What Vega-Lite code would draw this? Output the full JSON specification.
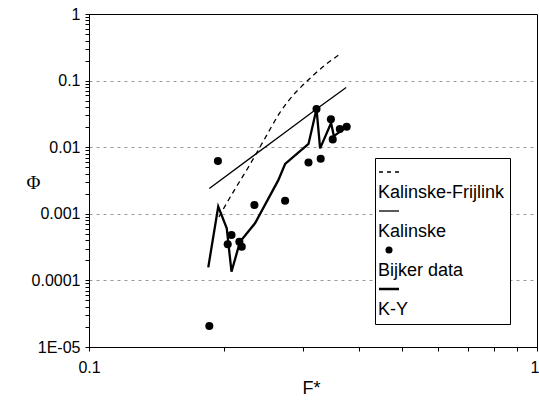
{
  "$schema": "https://vega.github.io/schema/vega-lite/v6.json",
  "width": 448,
  "height": 333,
  "autosize": "none",
  "padding": {"left": 89, "top": 14, "right": 2, "bottom": 59},
  "background": "white",
  "config": {
    "view": {"stroke": "black", "strokeWidth": 1},
    "font": "Liberation Sans",
    "axis": {
      "domainColor": "black",
      "tickColor": "black",
      "labelColor": "black",
      "titleColor": "black",
      "labelFont": "Liberation Sans",
      "labelFontSize": 16,
      "tickSize": 4,
      "labelFlush": false,
      "labelOverlap": false
    }
  },
  "data": {
    "values": [
      {"series": "Kalinske-Frijlink", "F": 0.195, "Phi": 0.0009},
      {"series": "Kalinske-Frijlink", "F": 0.2047, "Phi": 0.0016},
      {"series": "Kalinske-Frijlink", "F": 0.2287, "Phi": 0.0055},
      {"series": "Kalinske-Frijlink", "F": 0.245, "Phi": 0.0123},
      {"series": "Kalinske-Frijlink", "F": 0.2667, "Phi": 0.033},
      {"series": "Kalinske-Frijlink", "F": 0.3166, "Phi": 0.12},
      {"series": "Kalinske-Frijlink", "F": 0.366, "Phi": 0.26},
      {"series": "Kalinske", "F": 0.1856, "Phi": 0.0024},
      {"series": "Kalinske", "F": 0.28, "Phi": 0.0186},
      {"series": "Kalinske", "F": 0.322, "Phi": 0.0375},
      {"series": "Kalinske", "F": 0.375, "Phi": 0.079},
      {"series": "Bijker data", "F": 0.1856, "Phi": 0.0000207},
      {"series": "Bijker data", "F": 0.194, "Phi": 0.0062},
      {"series": "Bijker data", "F": 0.204, "Phi": 0.00035},
      {"series": "Bijker data", "F": 0.208, "Phi": 0.00048},
      {"series": "Bijker data", "F": 0.2166, "Phi": 0.00038},
      {"series": "Bijker data", "F": 0.2193, "Phi": 0.00032},
      {"series": "Bijker data", "F": 0.234, "Phi": 0.00136},
      {"series": "Bijker data", "F": 0.274, "Phi": 0.00157},
      {"series": "Bijker data", "F": 0.309, "Phi": 0.0059},
      {"series": "Bijker data", "F": 0.322, "Phi": 0.0375},
      {"series": "Bijker data", "F": 0.329, "Phi": 0.0067},
      {"series": "Bijker data", "F": 0.3467, "Phi": 0.0262},
      {"series": "Bijker data", "F": 0.35, "Phi": 0.0131},
      {"series": "Bijker data", "F": 0.363, "Phi": 0.0188},
      {"series": "Bijker data", "F": 0.376, "Phi": 0.0203},
      {"series": "K-Y", "F": 0.1846, "Phi": 0.000157},
      {"series": "K-Y", "F": 0.1943, "Phi": 0.00128},
      {"series": "K-Y", "F": 0.203, "Phi": 0.000606},
      {"series": "K-Y", "F": 0.208, "Phi": 0.000135},
      {"series": "K-Y", "F": 0.2173, "Phi": 0.00038},
      {"series": "K-Y", "F": 0.2347, "Phi": 0.00072},
      {"series": "K-Y", "F": 0.2646, "Phi": 0.0032},
      {"series": "K-Y", "F": 0.274, "Phi": 0.0056},
      {"series": "K-Y", "F": 0.309, "Phi": 0.0112},
      {"series": "K-Y", "F": 0.322, "Phi": 0.0375},
      {"series": "K-Y", "F": 0.328, "Phi": 0.0096},
      {"series": "K-Y", "F": 0.347, "Phi": 0.0231},
      {"series": "K-Y", "F": 0.352, "Phi": 0.0147},
      {"series": "K-Y", "F": 0.376, "Phi": 0.0203}
    ]
  },
  "encoding": {
    "x": {
      "field": "F", "type": "quantitative",
      "scale": {"type": "log", "domain": [0.1, 1], "nice": false},
      "axis": {
        "title": "F*",
        "titleFont": "Liberation Sans",
        "titleFontSize": 18,
        "titleFontWeight": "normal",
        "titleX": 222,
        "titleY": 41,
        "titleBaseline": "middle",
        "titleAlign": "center",
        "labelPadding": 8,
        "labelAlign": {"condition": {"test": "datum.value == 1", "value": "right"}, "value": "center"},
        "labelOffset": {"condition": {"test": "datum.value == 1", "value": 2}, "value": 0},
        "grid": false,
        "values": [0.1, 0.2, 0.3, 0.4, 0.5, 0.6, 0.7, 0.8, 0.9, 1],
        "labelExpr": "datum.value == 0.1 ? '0.1' : datum.value == 1 ? '1' : ''"
      }
    },
    "y": {
      "field": "Phi", "type": "quantitative",
      "scale": {"type": "log", "domain": [0.00001, 1], "nice": false},
      "axis": {
        "title": "Φ",
        "titleFont": "Liberation Serif",
        "titleFontSize": 19,
        "titleFontWeight": "normal",
        "titleAngle": 0,
        "titleX": -56,
        "titleY": 168,
        "titleBaseline": "middle",
        "titleAlign": "center",
        "labelPadding": 5,
        "grid": true,
        "gridColor": "#999999",
        "gridDash": [3, 4],
        "gridOpacity": {"condition": {"test": "datum.value == 0.1 || datum.value == 0.01 || datum.value == 0.001 || datum.value == 0.0001", "value": 1}, "value": 0},
        "values": [0.00001, 0.00002, 0.00003, 0.00004, 0.00005, 0.00006, 0.00007, 0.00008, 0.00009,
                   0.0001, 0.0002, 0.0003, 0.0004, 0.0005, 0.0006, 0.0007, 0.0008, 0.0009,
                   0.001, 0.002, 0.003, 0.004, 0.005, 0.006, 0.007, 0.008, 0.009,
                   0.01, 0.02, 0.03, 0.04, 0.05, 0.06, 0.07, 0.08, 0.09,
                   0.1, 0.2, 0.3, 0.4, 0.5, 0.6, 0.7, 0.8, 0.9, 1],
        "labelExpr": "datum.value == 1 ? '1' : datum.value == 0.1 ? '0.1' : datum.value == 0.01 ? '0.01' : datum.value == 0.001 ? '0.001' : datum.value == 0.0001 ? '0.0001' : datum.value == 0.00001 ? '1E-05' : ''"
      }
    },
    "color": {
      "field": "series", "type": "nominal",
      "scale": {"domain": ["Kalinske-Frijlink", "Kalinske", "Bijker data", "K-Y"], "range": ["black", "black", "black", "black"]},
      "legend": {
        "title": null,
        "orient": "none",
        "legendX": 286,
        "legendY": 144,
        "padding": 5,
        "fillColor": "white",
        "strokeColor": "black",
        "labelFont": "Liberation Sans",
        "labelFontSize": 18,
        "labelColor": "black",
        "labelOffset": -20,
        "rowPadding": 0,
        "symbolSize": 400,
        "encode": {
          "symbols": {
            "update": {
              "shape": {"signal": "datum.value === 'Kalinske-Frijlink' ? 'M-1,0H-0.6M-0.2,0H0.2M0.6,0H1' : datum.value === 'Bijker data' ? 'circle' : 'M-1,0H1'"},
              "size": {"signal": "datum.value === 'Bijker data' ? 50 : 400"},
              "fill": {"signal": "datum.value === 'Bijker data' ? 'black' : 'transparent'"},
              "stroke": {"value": "black"},
              "strokeWidth": {"signal": "datum.value === 'K-Y' ? 2.5 : datum.value === 'Bijker data' ? 0 : 1.3"},
              "opacity": {"value": 1}
            }
          },
          "labels": {
            "update": {
              "dy": {"value": 21}
            }
          }
        }
      }
    }
  },
  "layer": [
    {
      "transform": [{"filter": "datum.series === 'Kalinske-Frijlink'"}],
      "mark": {"type": "line", "strokeWidth": 1.3, "strokeDash": [5, 4], "interpolate": "monotone"}
    },
    {
      "transform": [{"filter": "datum.series === 'Kalinske'"}],
      "mark": {"type": "line", "strokeWidth": 1.3}
    },
    {
      "transform": [{"filter": "datum.series === 'K-Y'"}],
      "mark": {"type": "line", "strokeWidth": 2.3}
    },
    {
      "transform": [{"filter": "datum.series === 'Bijker data'"}],
      "mark": {"type": "point", "filled": true, "shape": "circle", "size": 65, "opacity": 1}
    }
  ]
}
